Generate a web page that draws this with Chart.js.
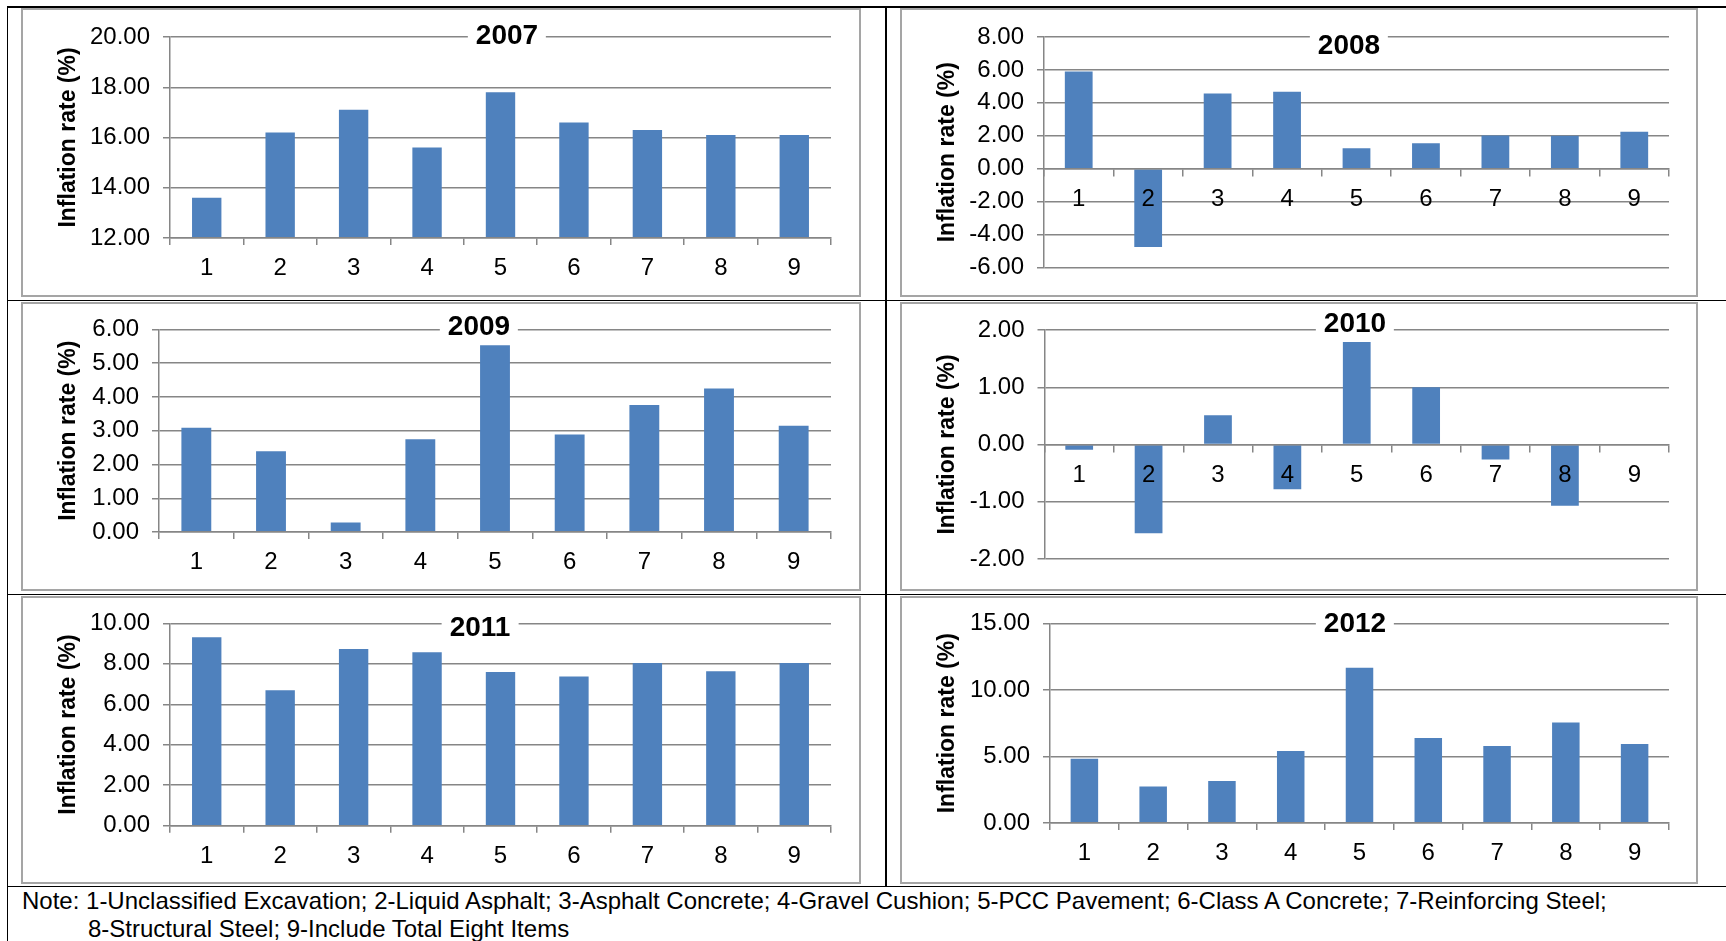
<!DOCTYPE html>
<html>
<head>
<meta charset="utf-8">
<script src="https://cdn.jsdelivr.net/npm/chart.js@4.4.1/dist/chart.umd.min.js"></script>
<style>
  body { margin: 0; background: #fff; width: 1726px; height: 941px; overflow: hidden; position: relative;
         font-family: 'Liberation Sans', Arial, sans-serif; }
  .rule { position: absolute; background: #000; }
  .frame { position: absolute; border: 2px solid #a5a5a5; box-sizing: border-box; pointer-events: none; }
  canvas { position: absolute; }
  .year { position: absolute; background: #fff; font-weight: bold; font-size: 28px; line-height: 28px;
          padding: 0 8px; transform: translate(-50%, -50%); color: #000; }
  .note { position: absolute; left: 22px; top: 887px; font-size: 24px; line-height: 28px; color: #000;
          white-space: nowrap; }
</style>
</head>
<body>
<div id="page"></div>
<div class="note">Note: 1-Unclassified Excavation; 2-Liquid Asphalt; 3-Asphalt Concrete; 4-Gravel Cushion; 5-PCC Pavement; 6-Class A Concrete; 7-Reinforcing Steel;<br><span style="padding-left:66px">8-Structural Steel; 9-Include Total Eight Items</span></div>
<script>
'use strict';
//data
let categories = ['1', '2', '3', '4', '5', '6', '7', '8', '9'];
let years = ['2007', '2008', '2009', '2010', '2011', '2012'];
let rates2007 = [13.6, 16.2, 17.1, 15.6, 17.8, 16.6, 16.3, 16.1, 16.1];
let rates2008 = [5.9, -4.75, 4.57, 4.67, 1.25, 1.54, 2.02, 2.0, 2.24];
let rates2009 = [3.09, 2.39, 0.28, 2.75, 5.53, 2.89, 3.76, 4.25, 3.15];
let rates2010 = [-0.09, -1.55, 0.51, -0.78, 1.79, 1.0, -0.26, -1.07, 0.0];
let rates2011 = [9.32, 6.7, 8.73, 8.58, 7.6, 7.38, 8.04, 7.64, 8.04];
let rates2012 = [4.83, 2.75, 3.16, 5.41, 11.67, 6.39, 5.79, 7.56, 5.94];
let axisMin = [12, -6, 0, -2, 0, 0];
let axisMax = [20, 8, 6, 2, 10, 15];
let axisStep = [2, 2, 1, 1, 2, 5];
let axisTitle = 'Inflation rate (%)';

//layout of the six panels (page pixels)
let panels = [
  { values: rates2007, box: [21, 8, 840, 289], plot: [170, 831, 37, 238], title: [507, 35] },
  { values: rates2008, box: [900, 8, 798, 289], plot: [1044, 1669, 37, 267.5], title: [1349, 45] },
  { values: rates2009, box: [21, 302, 840, 289], plot: [159, 831, 329.5, 532], title: [479, 326] },
  { values: rates2010, box: [900, 302, 798, 289], plot: [1044.5, 1669, 330, 559], title: [1355, 323] },
  { values: rates2011, box: [21, 596, 840, 288], plot: [170, 831, 623.3, 825.7], title: [480, 627] },
  { values: rates2012, box: [900, 596, 798, 288], plot: [1050, 1669, 623.3, 823], title: [1355, 623] }
];

const page = document.getElementById('page');
const gray = '#868686';
const fontFamily = "'Liberation Sans', Arial, sans-serif";
Chart.defaults.font.family = fontFamily;
Chart.defaults.color = '#000';

//table rules
function rule(x, y, w, h) {
  let d = document.createElement('div');
  d.className = 'rule';
  d.style.left = x + 'px'; d.style.top = y + 'px';
  d.style.width = w + 'px'; d.style.height = h + 'px';
  page.appendChild(d);
}
rule(6.5, 6, 1720, 1.6);
rule(6.5, 6, 1.6, 935);
rule(885, 6, 1.6, 881);
rule(6.5, 299.7, 1720, 1.6);
rule(6.5, 593.5, 1720, 1.6);
rule(6.5, 885.5, 1720, 1.6);

function makePanel(i) {
  let p = panels[i];
  let [bx, by, bw, bh] = p.box;
  let [pl, pr, pt, pb] = p.plot;
  let zeroAxis = axisMin[i] < 0;

  let canvas = document.createElement('canvas');
  canvas.width = bw; canvas.height = bh;
  canvas.style.left = bx + 'px'; canvas.style.top = by + 'px';
  page.appendChild(canvas);

  let frame = document.createElement('div');
  frame.className = 'frame';
  frame.style.left = bx + 'px'; frame.style.top = by + 'px';
  frame.style.width = bw + 'px'; frame.style.height = bh + 'px';
  page.appendChild(frame);

  let yWidth = pl - bx;
  let xHeight = 45;
  let padBottom = zeroAxis ? bh - (pb - by) : bh - (pb - by) - xHeight;

  new Chart(canvas, {
    type: 'bar',
    data: {
      labels: categories,
      datasets: [{
        data: p.values,
        backgroundColor: '#4F81BD',
        borderWidth: 0,
        categoryPercentage: 0.4,
        barPercentage: 1
      }]
    },
    options: {
      responsive: false,
      animation: false,
      layout: { padding: { left: 0, top: pt - by, right: bx + bw - pr, bottom: padBottom } },
      plugins: { legend: { display: false }, tooltip: { enabled: false }, title: { display: false } },
      scales: {
        x: {
          position: zeroAxis ? { y: 0 } : 'bottom',
          grid: { drawOnChartArea: false, offset: true, tickLength: 7, color: gray, lineWidth: 1.5 },
          border: { color: gray, width: 1.5, z: 1 },
          ticks: { color: '#000', font: { size: 24 }, padding: 9, maxRotation: 0, autoSkip: false, z: 1 },
          afterFit: (s) => { s.height = xHeight; }
        },
        y: {
          min: axisMin[i],
          max: axisMax[i],
          ticks: { stepSize: axisStep[i], color: '#000', font: { size: 24 }, padding: 13,
                   callback: (v) => v.toFixed(2) },
          grid: { color: gray, lineWidth: 1.5, tickLength: 7 },
          border: { color: gray, width: 1.5 },
          title: { display: true, text: axisTitle, color: '#000',
                   font: { size: 23, weight: 'bold' }, padding: { top: 34, bottom: 0 } },
          afterFit: (s) => { s.width = yWidth; }
        }
      }
    }
  });

  let t = document.createElement('div');
  t.className = 'year';
  t.textContent = years[i];
  t.style.left = p.title[0] + 'px';
  t.style.top = p.title[1] + 'px';
  page.appendChild(t);
}

for (let i = 0; i < panels.length; i++) {
  makePanel(i);
}
</script>
</body>
</html>
